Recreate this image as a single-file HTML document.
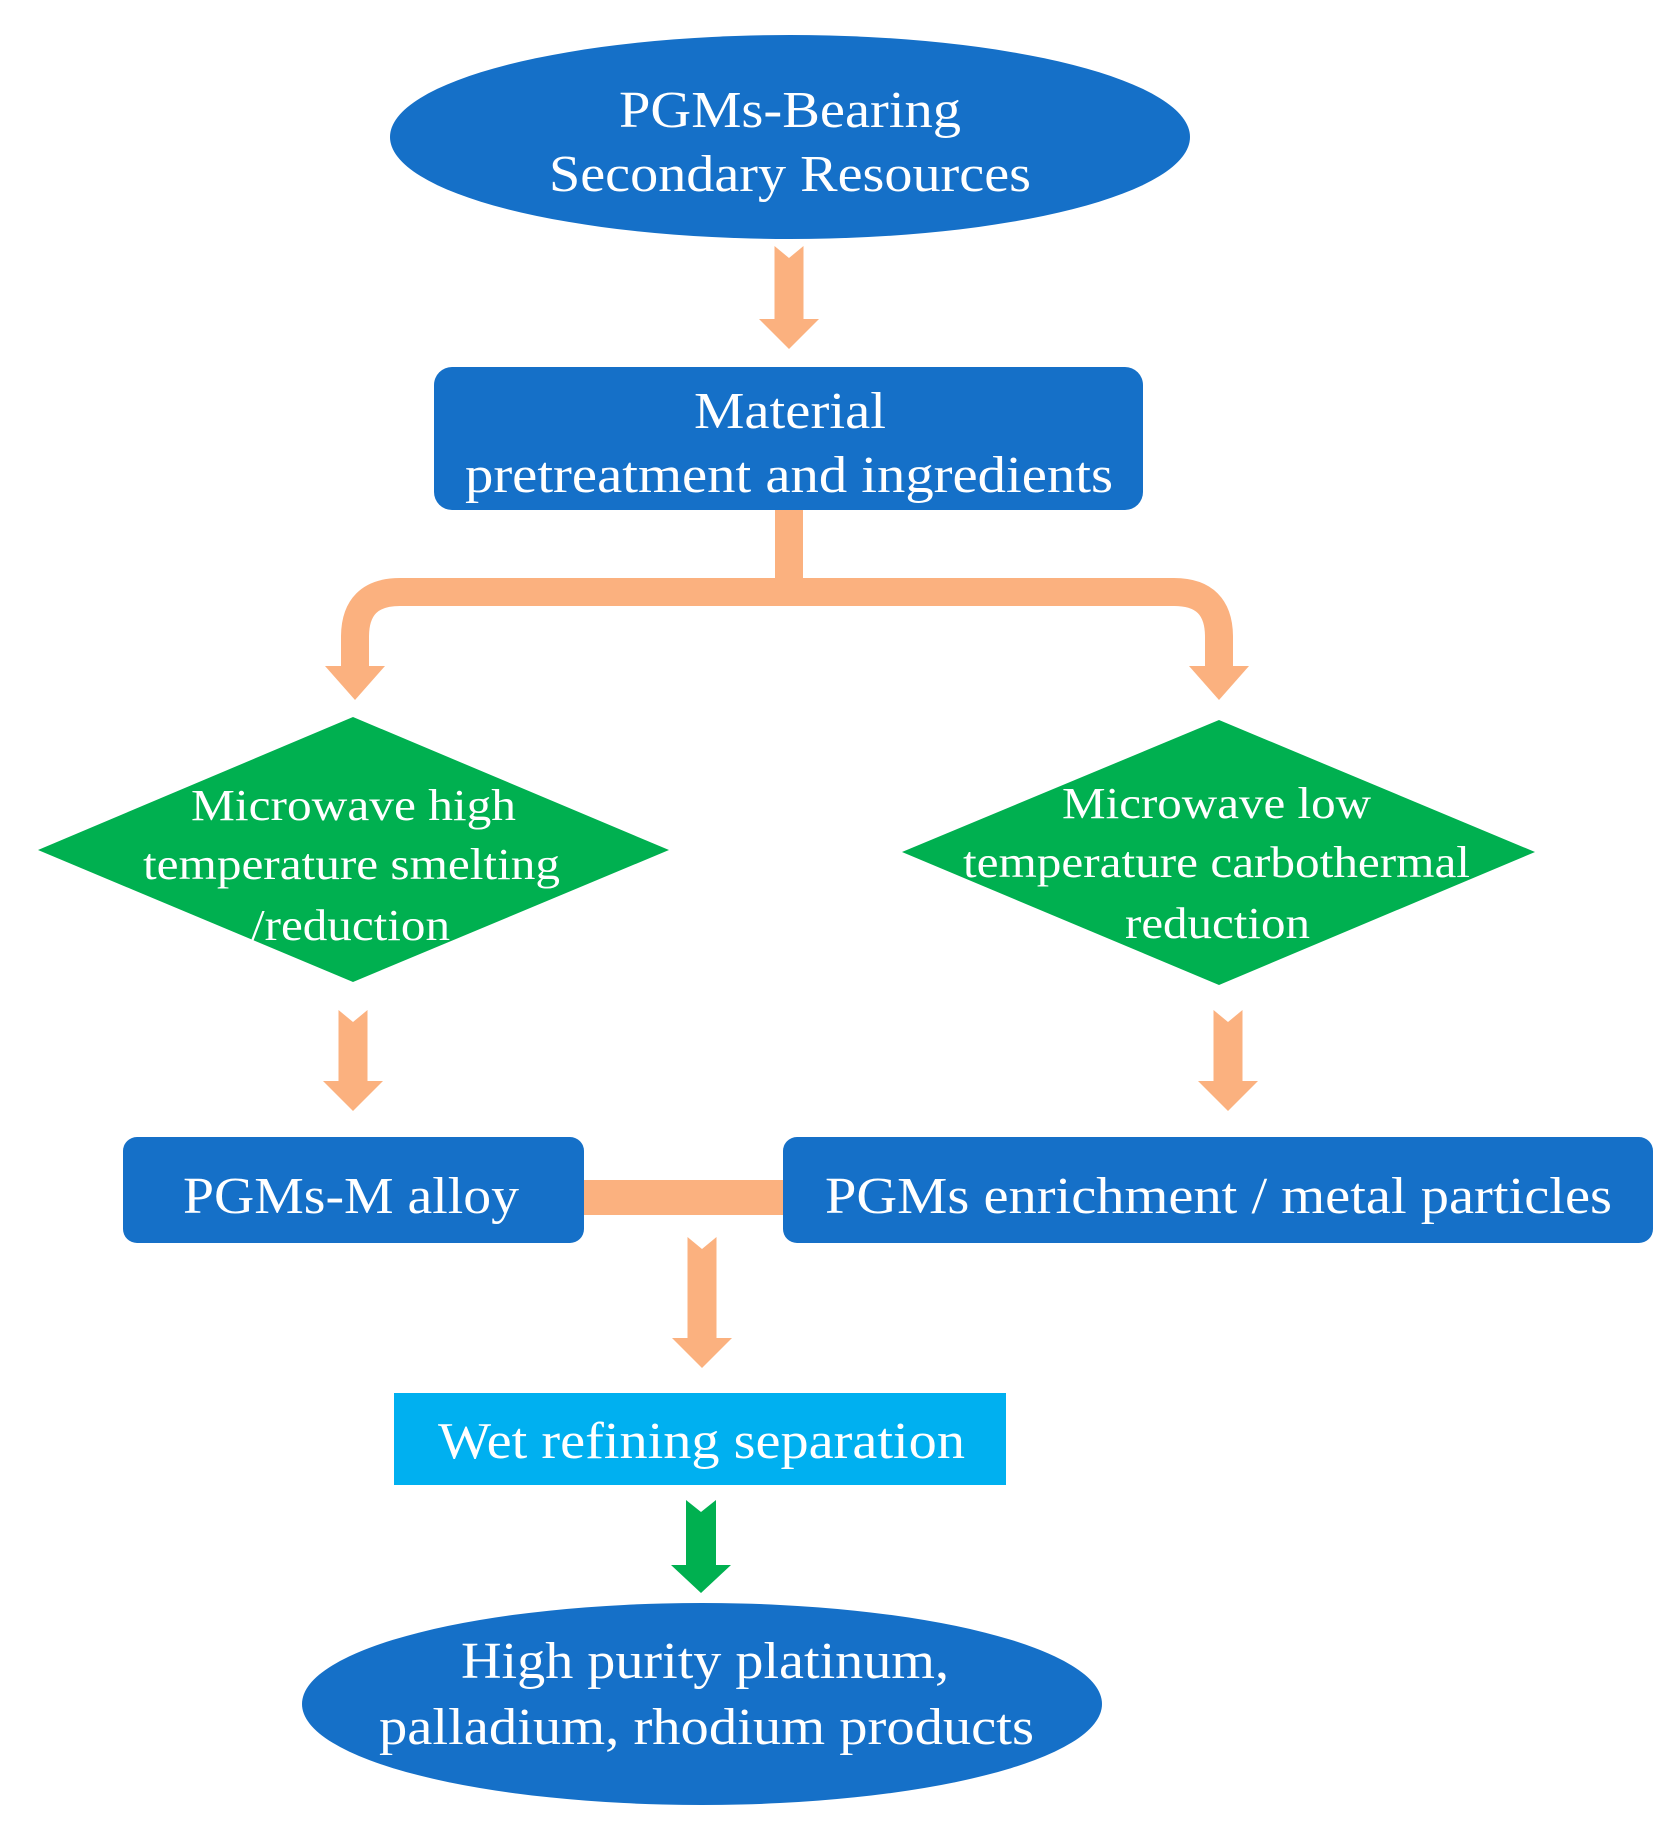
<!DOCTYPE html>
<html><head><meta charset="utf-8"><style>html,body{margin:0;padding:0;background:#fff}svg{display:block}</style></head>
<body>
<svg width="1676" height="1838" viewBox="0 0 1676 1838" xmlns="http://www.w3.org/2000/svg">
<g fill="#fbb17f">
<path d="M774.5,246 L789,258 L803.5,246 L803.5,319 L819,319 L789,349 L759,319 L774.5,319 Z"/>
<rect x="775" y="505" width="28" height="90"/>
<path d="M355,668 L355,637 Q355,592 400,592 L1174,592 Q1219,592 1219,637 L1219,668" fill="none" stroke="#fbb17f" stroke-width="28"/>
<polygon points="325,666 385,666 355,700"/>
<polygon points="1189,666 1249,666 1219,700"/>
<path d="M338.5,1010 L353,1022 L367.5,1010 L367.5,1081 L383,1081 L353,1111 L323,1081 L338.5,1081 Z"/>
<path d="M1213.5,1010 L1228,1022 L1242.5,1010 L1242.5,1081 L1258,1081 L1228,1111 L1198,1081 L1213.5,1081 Z"/>
<rect x="578" y="1180" width="210" height="35"/>
<path d="M687.5,1237 L702,1249 L716.5,1237 L716.5,1338 L732,1338 L702,1368 L672,1338 L687.5,1338 Z"/>
</g>
<path fill="#00b050" d="M686,1500 L701,1512 L716,1500 L716,1565 L731,1565 L701,1593 L671,1565 L686,1565 Z"/>
<ellipse cx="790" cy="137" rx="400" ry="102" fill="#1570c8"/>
<rect x="434" y="367" width="709" height="143" rx="18" fill="#1570c8"/>
<polygon points="38,850 353,717 669,850 353,982" fill="#00b050"/>
<polygon points="902,852 1219,720 1535,852 1219,985" fill="#00b050"/>
<rect x="123" y="1137" width="461" height="106" rx="14" fill="#1570c8"/>
<rect x="783" y="1137" width="870" height="106" rx="14" fill="#1570c8"/>
<rect x="394" y="1393" width="612" height="92" fill="#00b0f0"/>
<ellipse cx="702" cy="1704" rx="400" ry="101" fill="#1570c8"/>
<g fill="#fff" font-family="Liberation Serif, serif" font-size="52" lengthAdjust="spacingAndGlyphs">
<text x="619" y="127" textLength="342" lengthAdjust="spacingAndGlyphs">PGMs-Bearing</text>
<text x="549" y="191" textLength="482" lengthAdjust="spacingAndGlyphs">Secondary Resources</text>
<text x="694" y="428" textLength="192" lengthAdjust="spacingAndGlyphs">Material</text>
<text x="465" y="492" textLength="648" lengthAdjust="spacingAndGlyphs">pretreatment and ingredients</text>
<text x="183" y="1213" textLength="336" lengthAdjust="spacingAndGlyphs">PGMs-M alloy</text>
<text x="825" y="1213" textLength="787" lengthAdjust="spacingAndGlyphs">PGMs enrichment / metal particles</text>
<text x="438" y="1458" textLength="527" lengthAdjust="spacingAndGlyphs">Wet refining separation</text>
<text x="461" y="1678" textLength="488" lengthAdjust="spacingAndGlyphs">High purity platinum,</text>
<text x="379" y="1744" textLength="655" lengthAdjust="spacingAndGlyphs">palladium, rhodium products</text>
</g>
<g fill="#fff" font-family="Liberation Serif, serif" font-size="44">
<text x="191" y="820" textLength="325" lengthAdjust="spacingAndGlyphs">Microwave high</text>
<text x="143" y="879" textLength="417" lengthAdjust="spacingAndGlyphs">temperature smelting</text>
<text x="251" y="940" textLength="199" lengthAdjust="spacingAndGlyphs">/reduction</text>
<text x="1062" y="818" textLength="309" lengthAdjust="spacingAndGlyphs">Microwave low</text>
<text x="963" y="877" textLength="507" lengthAdjust="spacingAndGlyphs">temperature carbothermal</text>
<text x="1125" y="938" textLength="185" lengthAdjust="spacingAndGlyphs">reduction</text>
</g>
</svg>
</body></html>
